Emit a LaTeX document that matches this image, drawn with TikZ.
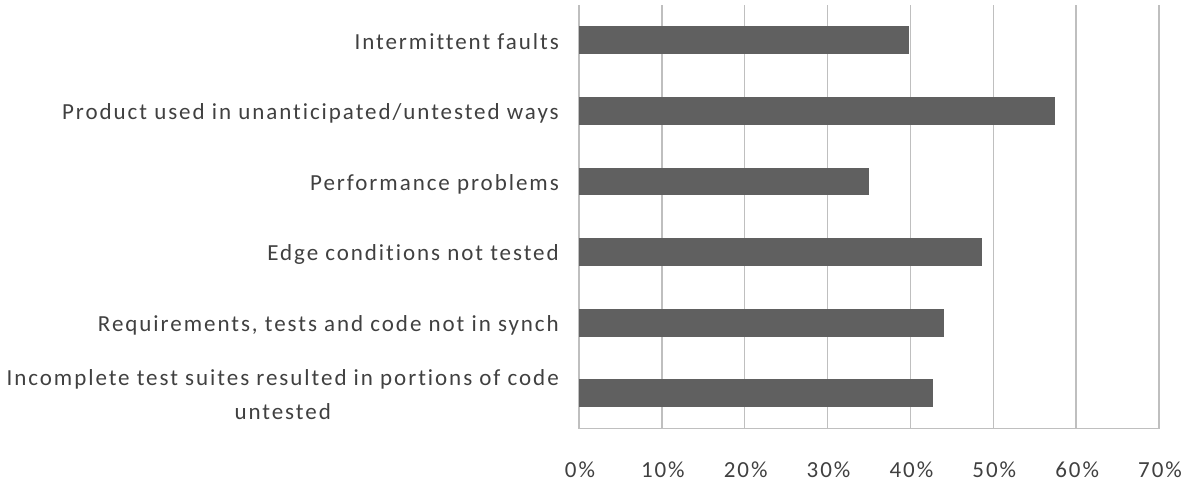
\documentclass[tikz,border=0pt]{standalone}
\usepackage{fontspec}
\setmainfont{Carlito}
\newfontfamily\lblfont{Carlito}[LetterSpace=8.5, Ligatures=NoCommon]
\definecolor{barcol}{HTML}{606060}
\definecolor{gridcol}{HTML}{BFBFBF}
\definecolor{txtcol}{HTML}{404040}
\tikzset{
  gridline/.style={draw=gridcol, line width=1.4pt},
  barbox/.style={fill=barcol, draw=none, inner sep=0pt, outer sep=0pt, minimum height=27.7pt, anchor=west},
  catlabel/.style={text=txtcol, inner sep=0pt, font=\lblfont\fontsize{23}{33.3}\selectfont},
  ticklabel/.style={text=txtcol, inner sep=0pt, anchor=base, font=\lblfont\fontsize{23}{27}\selectfont},
}
\begin{document}
\begin{tikzpicture}[x=1pt,y=-1pt]
\useasboundingbox (0,0) rectangle (1196,482);
% gridlines
\foreach \i in {0,...,7} {
  \coordinate (gt\i) at ({579+82.857*\i},5);
  \coordinate (gb\i) at ({579+82.857*\i},428.7);
  \draw[gridline] (gt\i) -- (gb\i);
}
\draw[gridline] (gb0) -- (gb7);
% bars (value in %)
\foreach \v/\c/\n in {39.8/40.3/1, 57.5/110.9/2, 35.0/181.5/3, 48.6/252.1/4, 44.0/322.7/5, 42.7/393.3/6} {
  \node[barbox, minimum width={8.2857pt*\v}] (bar\n) at (579,\c) {};
}
% category labels
\node[catlabel, anchor=base east] (lab1) at (559,49.1) {Intermittent faults};
\node[catlabel, anchor=base east] (lab2) at (559,119.7) {Product used in unanticipated/untested ways};
\node[catlabel, anchor=base east] (lab3) at (559,190.3) {Performance problems};
\node[catlabel, anchor=base east] (lab4) at (559,260.9) {Edge conditions not tested};
\node[catlabel, anchor=base east] (lab5) at (559,331.5) {Requirements, tests and code not in synch};
\node[catlabel, align=center, anchor=east] (lab6) at (559,394.5) {Incomplete test suites resulted in portions of code\\untested};
% tick labels
\foreach \i/\t in {0/0\%,1/10\%,2/20\%,3/30\%,4/40\%,5/50\%,6/60\%,7/70\%} {
  \node[ticklabel] (tick\i) at ({579+82.857*\i+1},477.7) {\t};
}
\end{tikzpicture}
\end{document}
